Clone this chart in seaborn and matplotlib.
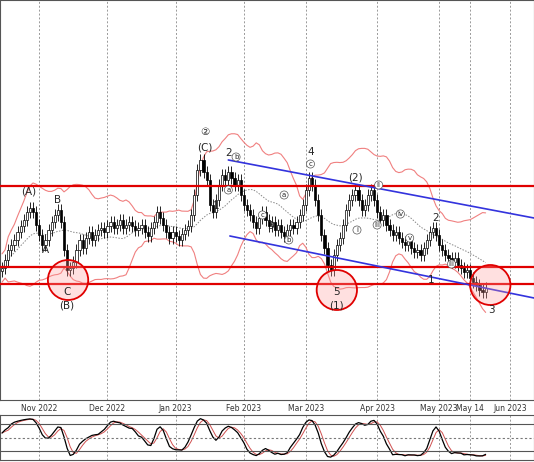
import numpy as np
import pandas as pd
import matplotlib
matplotlib.use("Agg")
import matplotlib.pyplot as plt
from matplotlib.patches import Ellipse
import seaborn as sns

# -------------------------
# Data (daily closes, business days from 2022-10-14)
# -------------------------
closes = [132, 140, 150, 155, 160, 168, 174, 180, 188, 192,
          188, 175, 165, 155, 160, 170, 178, 185, 190, 178,
          150, 130, 132, 138, 150, 160, 152, 162, 168, 160,
          165, 170, 172, 168, 174, 178, 172, 175, 180, 172,
          175, 178, 174, 170, 172, 175, 168, 164, 172, 178,
          188, 182, 175, 168, 162, 168, 164, 160, 166, 170,
          174, 185, 205, 230, 240, 228, 220, 195, 188, 200,
          215, 225, 220, 228, 222, 215, 220, 205, 195, 190,
          185, 178, 172, 182, 188, 180, 174, 178, 170, 175,
          168, 164, 170, 175, 172, 178, 185, 195, 210, 222,
          215, 200, 185, 165, 152, 135, 130, 145, 155, 162,
          175, 190, 200, 205, 210, 200, 190, 195, 205, 210,
          200, 188, 180, 185, 175, 170, 165, 168, 162, 158,
          155, 160, 152, 148, 150, 145, 152, 160, 168, 172,
          165, 155, 150, 145, 142, 138, 142, 135, 132, 128,
          130, 122, 118, 115, 110, 108, 112]
start_date = "2022-10-14"
end_date = "2023-06-09"
month_ticks = ["2022-11-01", "2022-12-01", "2023-01-02", "2023-02-01", "2023-03-01",
               "2023-04-03", "2023-05-01", "2023-05-15", "2023-06-01"]
month_labels = ["Nov 2022", "Dec 2022", "Jan 2023", "Feb 2023", "Mar 2023",
                "Apr 2023", "May 2023", "May 14", "Jun 2023"]
h_levels = [214, 133, 116]
chan_top = [(73, 240), (171.6, 182)]
chan_bot = [(73.5, 164), (171.6, 102)]
circles = [(21.3, 120), (108, 110), (157.5, 115)]
wave_labels = [(8.5, 208, "(A)"), (14, 150, "A"), (18, 200, "B"), (21, 108, "C"), (21, 94, "(B)"),
               (65.5, 268, "②"), (65.5, 253, "(C)"), (69, 194, "1"), (73, 247, "2"),
               (86.5, 174, "3"), (99.5, 248, "4"), (108, 108, "5"), (108, 95, "(1)"),
               (114, 222, "(2)"), (140, 182, "2"), (138.5, 120, "1"), (158, 90, "3")]
small_labels = [(75.5, 243, "b"), (73, 210, "a"), (91, 205, "a"), (92.5, 160, "b"),
                (84, 185, "c"), (99.5, 236, "c"), (114.5, 170, "i"), (121.5, 215, "ii"),
                (121, 175, "iii"), (128.5, 186, "iv"), (131.5, 162, "v"), (145, 136, "iii")]

# -------------------------
# Build frame
# -------------------------
dates = pd.bdate_range(start_date, end_date)
idx = np.arange(len(dates))
n = len(closes)
df = pd.DataFrame({"i": idx[:n], "close": closes})
df["open"] = [closes[0] - 3] + closes[:-1]
df["high"] = df[["open", "close"]].max(axis=1) + 6
df["low"] = df[["open", "close"]].min(axis=1) - 6
df["ma"] = df["close"].rolling(20, min_periods=1).mean()
sd = df["close"].rolling(20, min_periods=2).std().bfill()
df["upper"] = df["ma"] + 2.5 * sd
df["lower"] = df["ma"] - 2.5 * sd
lo14 = df["low"].rolling(14, min_periods=1).min()
hi14 = df["high"].rolling(14, min_periods=1).max()
k = 100 * (df["close"] - lo14) / (hi14 - lo14)
df["k"] = k.rolling(3, min_periods=1).mean()
df["d"] = df["k"].rolling(3, min_periods=1).mean()

sns.set_style("white")
plt.rcParams["font.family"] = ["DejaVu Sans"]

fig = plt.figure(figsize=(5.34, 4.62), dpi=100)
ax = fig.add_axes([0, 62 / 462, 1, 400 / 462])
ax2 = fig.add_axes([0, 2 / 462, 1, 45 / 462])
xlim = (-0.65, 171.6)

tick_pos = [dates.get_indexer([pd.Timestamp(t)], method="bfill")[0] for t in month_ticks]
for a in (ax, ax2):
    a.set_xlim(*xlim)
    for t in tick_pos:
        a.axvline(t, color="#999999", ls=(0, (2, 2)), lw=0.7, zorder=0)
    for s in a.spines.values():
        s.set_color("#555555")
        s.set_linewidth(0.8)

# -------------------------
# Candles
# -------------------------
ax.vlines(df["i"], df["low"], df["high"], color="black", lw=0.6, zorder=3)
up = df["close"] >= df["open"]
ax.bar(df["i"][up], (df["close"] - df["open"])[up], bottom=df["open"][up], width=0.7,
       color="white", edgecolor="black", lw=0.5, zorder=4)
ax.bar(df["i"][~up], (df["open"] - df["close"])[~up], bottom=df["close"][~up], width=0.7,
       color="black", edgecolor="black", lw=0.5, zorder=4)

sns.lineplot(data=df, x="i", y="upper", ax=ax, color="#f08080", lw=0.8)
sns.lineplot(data=df, x="i", y="lower", ax=ax, color="#f08080", lw=0.8)
sns.lineplot(data=df, x="i", y="ma", ax=ax, color="#888888", lw=0.7, ls=(0, (1.5, 1.5)))

for lv in h_levels:
    ax.axhline(lv, color="#e00000", lw=1.6, zorder=5)
for seg in (chan_top, chan_bot):
    ax.plot([seg[0][0], seg[1][0]], [seg[0][1], seg[1][1]], color="#3333dd", lw=1.2, zorder=5)
for cx, cy in circles:
    ax.add_patch(Ellipse((cx, cy), 13, 40, facecolor=(1, 0.6, 0.6, 0.3),
                         edgecolor="#e00000", lw=1.3, zorder=6))
for x, y, t in wave_labels:
    ax.text(x, y, t, ha="center", va="center", fontsize=7.5, zorder=7)
for x, y, t in small_labels:
    ax.text(x, y, t, ha="center", va="center", fontsize=5, zorder=7,
            bbox=dict(boxstyle="circle,pad=0.15", fc="white", ec="#555555", lw=0.5))

ax.set_ylim(0, 400)
ax.set_yticks([])
ax.set_xticks(tick_pos)
ax.set_xticklabels(month_labels, fontsize=5.5, color="#333333")
ax.tick_params(axis="x", length=0, pad=3)
ax.set_xlabel("")
ax.set_ylabel("")

# -------------------------
# Stochastic
# -------------------------
sns.lineplot(data=df, x="i", y="d", ax=ax2, color="#d05050", lw=0.7)
sns.lineplot(data=df, x="i", y="k", ax=ax2, color="black", lw=0.9)
for lv in (20, 80):
    ax2.axhline(lv, color="#555555", lw=0.8)
ax2.axhline(50, color="#777777", lw=0.8, ls=(0, (2, 2)))
ax2.set_ylim(0, 100)
ax2.set_xticks([])
ax2.set_yticks([])
ax2.set_xlabel("")
ax2.set_ylabel("")

plt.savefig("out.png", dpi=100)
